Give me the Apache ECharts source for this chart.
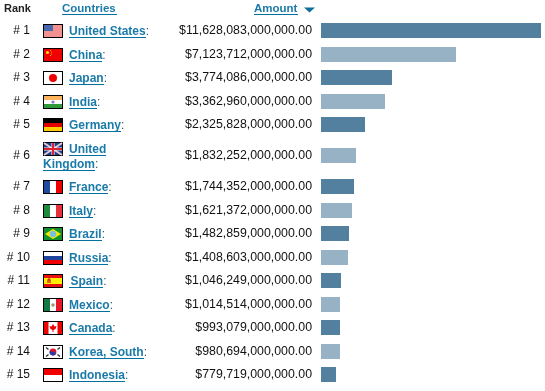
<!DOCTYPE html>
<html>
<head>
<meta charset="utf-8">
<style>
  html, body { margin: 0; padding: 0; background: #fff; }
  #chart { width: 545px; height: 391px; }
</style>
<script src="https://cdn.jsdelivr.net/npm/echarts@6/dist/echarts.min.js"></script>
</head>
<body>
<div id="chart"></div>
<script>
  var categories = ['United States', 'China', 'Japan', 'India', 'Germany', 'United\nKingdom', 'France', 'Italy',
    'Brazil', 'Russia', 'Spain', 'Mexico', 'Canada', 'Korea, South', 'Indonesia']
  var ranks = ['# 1', '# 2', '# 3', '# 4', '# 5', '# 6', '# 7', '# 8', '# 9', '# 10', '# 11', '# 12', '# 13', '# 14', '# 15']
  var amounts = [11628083000000, 7123712000000, 3774086000000, 3362960000000, 2325828000000, 1832252000000,
    1744352000000, 1621372000000, 1482859000000, 1408603000000, 1046249000000, 1014514000000, 993079000000,
    980694000000, 779719000000]
  var headers = ['Rank', 'Countries', 'Amount']

  var LINK = '#1a7aa9'
  var UNDERLINE = '#00719f'
  var FONT = 'Liberation Sans, Arial, sans-serif'
  var DARK_BAR = '#54809f'
  var LIGHT_BAR = '#97b2c5'
  var ROW = 23.5

  var measure = document.createElement('canvas').getContext('2d')
  function textWidth(text, font) {
    measure.font = font
    return measure.measureText(text).width
  }

  function money(v) {
    return '$' + v.toLocaleString('en-US') + '.00'
  }

  // flags are drawn in an 18x12 box, the border goes around it
  function r(x, y, w, h, fill) {
    return { type: 'rect', shape: { x: x, y: y, width: w, height: h }, style: { fill: fill } }
  }
  function c(x, y, radius, fill) {
    return { type: 'circle', shape: { cx: x, cy: y, r: radius }, style: { fill: fill } }
  }
  function p(points, fill) {
    return { type: 'polygon', shape: { points: points }, style: { fill: fill } }
  }
  function l(x1, y1, x2, y2, color, width) {
    return { type: 'line', shape: { x1: x1, y1: y1, x2: x2, y2: y2 }, style: { stroke: color, lineWidth: width } }
  }

  var flagShapes = {
    'United States': function () {
      var out = [r(0, 0, 18, 12, '#f7b5b5')]
      for (var i = 0; i < 6; i++) out.push(r(0, i * 2 + 0.5, 18, 1, '#ee6a6a'))
      out.push(r(0, 0, 9, 6, '#4a68ae'))
      return out
    },
    'China': function () {
      return [r(0, 0, 18, 12, '#f00000'), c(3.5, 3.5, 1.6, '#ffd800'), c(6.5, 1.5, 0.5, '#ffd800'),
        c(7.5, 3, 0.5, '#ffd800'), c(7.5, 5, 0.5, '#ffd800'), c(6.5, 6.5, 0.5, '#ffd800')]
    },
    'Japan': function () {
      return [r(0, 0, 18, 12, '#fff'), c(9, 6, 4, '#f00000')]
    },
    'India': function () {
      return [r(0, 0, 18, 4, '#ffb35c'), r(0, 4, 18, 4, '#fff'), r(0, 8, 18, 4, '#2e9a3c'), c(9, 6, 1.6, '#7a82c0')]
    },
    'Germany': function () {
      return [r(0, 0, 18, 4, '#000'), r(0, 4, 18, 4, '#e00000'), r(0, 8, 18, 4, '#ffcc00')]
    },
    'United\nKingdom': function () {
      return [r(0, 0, 18, 12, '#1f3f8f'), l(0, 0, 18, 12, '#e8c8d0', 2), l(18, 0, 0, 12, '#e8c8d0', 2),
        r(7.5, 0, 3, 12, '#fff'), r(0, 4.5, 18, 3, '#fff'), r(8, 0, 2, 12, '#e02030'), r(0, 5, 18, 2, '#e02030')]
    },
    'France': function () {
      return [r(0, 0, 6, 12, '#1f4a9f'), r(6, 0, 6, 12, '#fff'), r(12, 0, 6, 12, '#f00000')]
    },
    'Italy': function () {
      return [r(0, 0, 6, 12, '#1e8a3c'), r(6, 0, 6, 12, '#fff'), r(12, 0, 6, 12, '#e8303a')]
    },
    'Brazil': function () {
      return [r(0, 0, 18, 12, '#12902c'), p([[9, 1], [17, 6], [9, 11], [1, 6]], '#f4e800'), c(9, 6, 3.2, '#7cc0e0')]
    },
    'Russia': function () {
      return [r(0, 0, 18, 4, '#fff'), r(0, 4, 18, 4, '#1f44a0'), r(0, 8, 18, 4, '#f00000')]
    },
    'Spain': function () {
      return [r(0, 0, 18, 3, '#e81010'), r(0, 3, 18, 6, '#ffee00'), r(0, 9, 18, 3, '#e81010'),
        r(3, 4.5, 4, 3.5, '#d86a20'), c(5, 4.5, 1.2, '#d03010')]
    },
    'Mexico': function () {
      return [r(0, 0, 6, 12, '#0f7a44'), r(6, 0, 6, 12, '#fff'), r(12, 0, 6, 12, '#e81828'), c(9, 6, 1.7, '#a89468')]
    },
    'Canada': function () {
      return [r(0, 0, 18, 12, '#fff'), r(0, 0, 4.5, 12, '#f00000'), r(13.5, 0, 4.5, 12, '#f00000'),
        p([[9, 2], [10.5, 4.5], [12.5, 4], [11.5, 7], [9.5, 8], [9.5, 10], [8.5, 10], [8.5, 8], [6.5, 7], [5.5, 4], [7.5, 4.5]], '#f00000')]
    },
    'Korea, South': function () {
      return [r(0, 0, 18, 12, '#fff'), c(9, 6, 3.4, '#d81830'),
        { type: 'sector', shape: { cx: 9, cy: 6, r: 3.4, startAngle: 0.3, endAngle: 3.44 }, style: { fill: '#1f3fa8' } },
        l(2, 1.5, 4.5, 3.5, '#333', 1.5), l(16, 1.5, 13.5, 3.5, '#333', 1.5),
        l(2, 10.5, 4.5, 8.5, '#333', 1.5), l(16, 10.5, 13.5, 8.5, '#333', 1.5)]
    },
    'Indonesia': function () {
      return [r(0, 0, 18, 6, '#f00000'), r(0, 6, 18, 6, '#fff')]
    }
  }

  function drawFlag(name, top) {
    return {
      type: 'group',
      children: [r(43, top, 20, 14, '#000'), { type: 'group', x: 44, y: top + 1, children: flagShapes[name]() }]
    }
  }

  function drawName(name, cy) {
    var out = []
    var lines = name.split('\n')
    var font = 'bold 12px ' + FONT
    lines.forEach(function (line, i) {
      var wrapped = lines.length > 1
      var x = i === 0 ? 69 : 43
      var y = wrapped ? cy - 5.5 + i * 15 : cy + 1.5
      var w = textWidth(line, font)
      // Spain has a leading space in the source table
      var textX = name === 'Spain' ? x + 1.5 : x
      out.push({ type: 'text', style: { text: line, x: textX, y: y, verticalAlign: 'middle', font: font, fill: LINK } })
      out.push(r(x, Math.round(y + 5), Math.round(w + textX - x), 1, UNDERLINE))
      if (i === lines.length - 1) {
        out.push({ type: 'text', style: { text: ':', x: textX + w, y: y, verticalAlign: 'middle', font: '12px ' + FONT, fill: '#335566' } })
      }
    })
    return out
  }

  function rowSeries(gridIndex, from) {
    return {
      type: 'custom',
      xAxisIndex: gridIndex,
      yAxisIndex: gridIndex,
      silent: true,
      encode: { x: 0, y: 1 },
      data: amounts.slice(from, gridRows[gridIndex][1]).map(function (v, i) {
        return [v, categories[from + i]]
      }),
      renderItem: function (params, api) {
        var i = from + params.dataIndex
        var start = api.coord([0, api.value(1)])
        var end = api.coord([api.value(0), api.value(1)])
        var top = Math.round(start[1] - 7.5)
        var cy = top + 7.5
        var name = categories[i]
        var flagTop = name.indexOf('\n') > -1 ? top - 6 : top + 1
        var children = [
          r(start[0], top, Math.round(end[0] - start[0]), 15, i % 2 === 0 ? DARK_BAR : LIGHT_BAR),
          { type: 'text', style: { text: ranks[i], x: 30, y: cy, align: 'right', verticalAlign: 'middle', font: '12px ' + FONT, fill: '#111' } },
          { type: 'text', style: { text: money(amounts[i]), x: 312, y: cy, align: 'right', verticalAlign: 'middle', font: '12.35px ' + FONT, fill: '#111' } },
          drawFlag(name, flagTop)
        ]
        return { type: 'group', children: children.concat(drawName(name, cy)) }
      }
    }
  }

  // the wrapped United Kingdom row is taller, so the table is split in three grids
  var gridRows = [[0, 5], [5, 6], [6, 15]]
  var gridTops = [18.75, 143.75, 174.75]

  var chart = echarts.init(document.getElementById('chart'))

  chart.setOption({
    backgroundColor: '#fff',
    animation: false,
    grid: gridRows.map(function (g, i) {
      return { left: 321, width: 220, top: gridTops[i], height: (g[1] - g[0]) * ROW }
    }),
    xAxis: gridRows.map(function (g, i) {
      return { type: 'value', gridIndex: i, min: 0, max: amounts[0], show: false }
    }),
    yAxis: gridRows.map(function (g, i) {
      return { type: 'category', gridIndex: i, inverse: true, show: false, data: categories.slice(g[0], g[1]) }
    }),
    series: gridRows.map(function (g, i) {
      return rowSeries(i, g[0])
    }),
    graphic: [
      { type: 'text', style: { text: headers[0], x: 4, y: 9, verticalAlign: 'middle', font: 'bold 11px ' + FONT, fill: '#222' } },
      { type: 'text', style: { text: headers[1], x: 62, y: 9, verticalAlign: 'middle', font: 'bold 11.5px ' + FONT, fill: LINK } },
      { type: 'rect', shape: { x: 62, y: 14, width: 55, height: 1 }, style: { fill: UNDERLINE } },
      { type: 'text', style: { text: headers[2], x: 254, y: 9, verticalAlign: 'middle', font: 'bold 11.5px ' + FONT, fill: LINK } },
      { type: 'rect', shape: { x: 254, y: 14, width: 44, height: 1 }, style: { fill: UNDERLINE } },
      { type: 'polygon', shape: { points: [[304, 7.5], [315, 7.5], [309.5, 12.5]] }, style: { fill: '#0f6f98' } }
    ]
  })
</script>
</body>
</html>
